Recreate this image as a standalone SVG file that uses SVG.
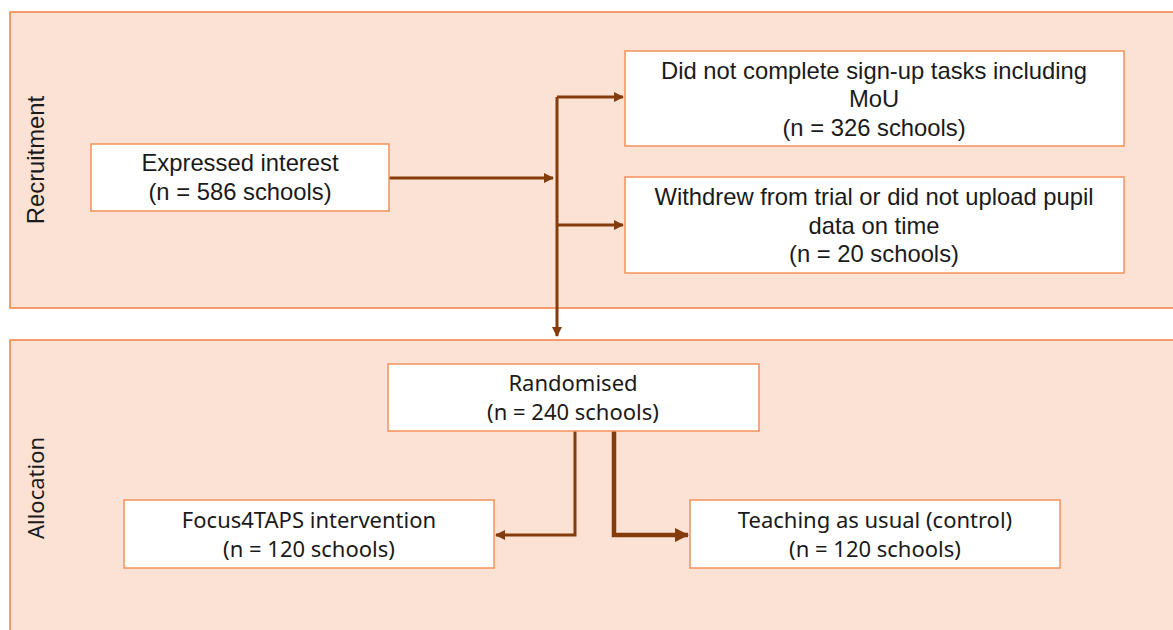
<svg xmlns="http://www.w3.org/2000/svg" width="1173" height="630" viewBox="0 0 1173 630">
<defs>
<style>
.panel{fill:#FBE2D5;stroke:#F08040;stroke-width:1.5}
.box{fill:#FFFFFF;stroke:#F4915A;stroke-width:1.5}
.ta{font-family:"Liberation Sans",Arial,sans-serif;font-size:23.8px;fill:#1a1a1a;text-anchor:middle}
.tb{font-family:"Noto Sans","Open Sans",sans-serif;font-size:22px;fill:#1a1a1a;text-anchor:middle}
.conn{fill:none;stroke:#843C0C;stroke-width:3}
</style>
<marker id="ah" markerWidth="10" markerHeight="10" refX="9" refY="5" orient="auto" markerUnits="userSpaceOnUse">
<path d="M0,0 L10,5 L0,10 Z" fill="#843C0C"/>
</marker>
<marker id="ahb" markerWidth="14" markerHeight="14" refX="13" refY="7" orient="auto" markerUnits="userSpaceOnUse">
<path d="M0,0 L14,7 L0,14 Z" fill="#843C0C"/>
</marker>
</defs>
<g id="panel-recruitment">
<rect class="panel" x="10" y="12" width="1170" height="296"/>
<text class="ta" transform="translate(44,160) rotate(-90)">Recruitment</text>
</g>
<g id="panel-allocation">
<rect class="panel" x="10" y="340" width="1170" height="300"/>
<text class="tb" transform="translate(44,488) rotate(-90)" font-size="24.5">Allocation</text>
</g>
<g id="connectors">
<path class="conn" d="M389,178 H553" marker-end="url(#ah)"/>
<path class="conn" d="M557,97 V336" marker-end="url(#ah)"/>
<path class="conn" d="M557,97 H623" marker-end="url(#ah)"/>
<path class="conn" d="M557,225 H623" marker-end="url(#ah)"/>
<path class="conn" d="M575,431 V535 H496" marker-end="url(#ah)"/>
<path class="conn" d="M614,431 V535 H688" marker-end="url(#ahb)" style="stroke-width:4.5"/>
</g>
<g id="node-expressed">
<rect class="box" x="91" y="144" width="298" height="67"/>
<text class="ta" x="240" y="171">Expressed interest</text>
<text class="ta" x="240" y="200">(n = 586 schools)</text>
</g>
<g id="node-notcomplete">
<rect class="box" x="625" y="51" width="499" height="95"/>
<text class="ta" x="874" y="79">Did not complete sign-up tasks including</text>
<text class="ta" x="874" y="107">MoU</text>
<text class="ta" x="874" y="136">(n = 326 schools)</text>
</g>
<g id="node-withdrew">
<rect class="box" x="625" y="177" width="499" height="96"/>
<text class="ta" x="874" y="205">Withdrew from trial or did not upload pupil</text>
<text class="ta" x="874" y="234">data on time</text>
<text class="ta" x="874" y="262">(n = 20 schools)</text>
</g>
<g id="node-randomised">
<rect class="box" x="388" y="364" width="371" height="67"/>
<text class="tb" x="573" y="391">Randomised</text>
<text class="tb" x="573" y="420">(n = 240 schools)</text>
</g>
<g id="node-focus">
<rect class="box" x="124" y="500" width="370" height="68"/>
<text class="tb" x="309" y="528">Focus4TAPS intervention</text>
<text class="tb" x="309" y="557">(n = 120 schools)</text>
</g>
<g id="node-control">
<rect class="box" x="690" y="500" width="370" height="68"/>
<text class="tb" x="875" y="528">Teaching as usual (control)</text>
<text class="tb" x="875" y="557">(n = 120 schools)</text>
</g>
</svg>
